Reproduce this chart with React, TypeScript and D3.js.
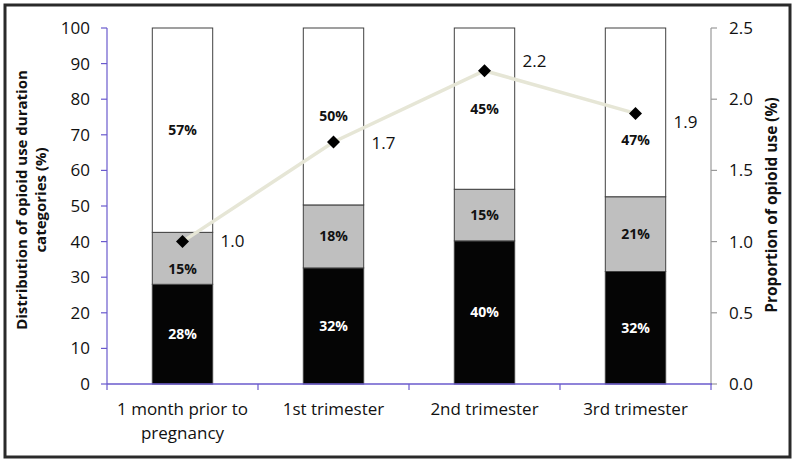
import React from "react";
import * as d3 from "d3";

const categories = ["1 month prior to|pregnancy", "1st trimester", "2nd trimester", "3rd trimester"];
const longUse = [28, 32.6, 40.2, 31.6];
const midUse = [14.6, 17.7, 14.5, 21.0];
const shortUse = [57.4, 49.7, 45.3, 47.4];
const longLabels = ["28%", "32%", "40%", "32%"];
const midLabels = ["15%", "18%", "15%", "21%"];
const shortLabels = ["57%", "50%", "45%", "47%"];
const proportion = [1.0, 1.7, 2.2, 1.9];
const proportionLabels = ["1.0", "1.7", "2.2", "1.9"];
const leftTicks = [0, 10, 20, 30, 40, 50, 60, 70, 80, 90, 100];
const rightTicks = [0, 0.5, 1.0, 1.5, 2.0, 2.5];

// label nudges (px), as in the original figure
const midShift = [11, 0, 0, 0];
const shortShift = [0, 0, 0, 28];
const pointLabelDy = [-1, 1, -10, 9];

const W = 795, H = 462;
const left = 107, right = 711, top = 28, bottom = 384;
const FONT = "'Open Sans', 'Liberation Sans', sans-serif";
const AXIS = "#6a5acd";

export default function App() {
  const x = d3.scaleBand<number>().domain(d3.range(categories.length)).range([left, right]).paddingInner(0.6).paddingOuter(0.3);
  const xc = d3.scaleBand<number>().domain(d3.range(categories.length)).range([left, right]);
  const yL = d3.scaleLinear().domain([0, 100]).range([bottom, top]);
  const yR = d3.scaleLinear().domain([0, 2.5]).range([bottom, top]);

  const series = [
    { vals: longUse, fill: "#050505", labels: longLabels, color: "#fff", shift: [0, 0, 0, 0] },
    { vals: midUse, fill: "#bfbfbf", labels: midLabels, color: "#111", shift: midShift },
    { vals: shortUse, fill: "#ffffff", labels: shortLabels, color: "#111", shift: shortShift },
  ];

  const cx = (i: number) => (xc(i) as number) + xc.bandwidth() / 2;
  const line = d3.line<number>().x((_, i) => cx(i)).y((d) => yR(d));

  const bars: React.ReactNode[] = [];
  const labels: React.ReactNode[] = [];
  categories.forEach((_, i) => {
    let base = 0;
    series.forEach((s, k) => {
      const v0 = base, v1 = base + s.vals[i];
      base = v1;
      bars.push(
        <rect key={`b${i}-${k}`} x={x(i)} y={yL(v1)} width={x.bandwidth()} height={yL(v0) - yL(v1)}
          fill={s.fill} stroke="#404040" strokeWidth={1} />
      );
      labels.push(
        <text key={`l${i}-${k}`} x={cx(i)} y={yL((v0 + v1) / 2) + s.shift[i]} dy="0.35em" textAnchor="middle"
          fontSize={14} fontWeight="bold" fill={s.color} fontFamily={FONT}>{s.labels[i]}</text>
      );
    });
  });

  return (
    <svg width={W} height={H} style={{ position: "absolute", left: 0, top: 0, background: "#fff" }}>
      <rect x={5} y={5} width={785} height={452} fill="#fff" stroke="#2a2a2a" strokeWidth={3} />
      {bars}
      <path d={line(proportion) || ""} fill="none" stroke="#e6e6d6" strokeWidth={3.5} />
      {proportion.map((p, i) => (
        <path key={`m${i}`} d={`M${cx(i)},${yR(p) - 6.5}L${cx(i) + 6.5},${yR(p)}L${cx(i)},${yR(p) + 6.5}L${cx(i) - 6.5},${yR(p)}Z`} fill="#000" />
      ))}
      {proportion.map((p, i) => (
        <text key={`pl${i}`} x={cx(i) + 38} y={yR(p) + pointLabelDy[i]} dy="0.35em" fontSize={17} fill="#111" fontFamily={FONT}>{proportionLabels[i]}</text>
      ))}
      {labels}
      {/* left axis */}
      <line x1={left} x2={left} y1={top} y2={bottom} stroke={AXIS} strokeWidth={1.2} />
      {leftTicks.map((t) => (
        <g key={`lt${t}`}>
          <line x1={left - 6} x2={left} y1={yL(t)} y2={yL(t)} stroke={AXIS} strokeWidth={1.2} />
          <text x={left - 17} y={yL(t)} dy="0.35em" textAnchor="end" fontSize={17} fill="#111" fontFamily={FONT}>{t}</text>
        </g>
      ))}
      {/* right axis */}
      <line x1={right} x2={right} y1={top} y2={bottom} stroke="#999" strokeWidth={1.2} />
      {rightTicks.map((t) => (
        <g key={`rt${t}`}>
          <line x1={right} x2={right + 6} y1={yR(t)} y2={yR(t)} stroke="#999" strokeWidth={1.2} />
          <text x={right + 18} y={yR(t)} dy="0.35em" textAnchor="start" fontSize={17} fill="#111" fontFamily={FONT}>{t.toFixed(1)}</text>
        </g>
      ))}
      {/* bottom axis */}
      <line x1={left} x2={right + 1} y1={bottom} y2={bottom} stroke={AXIS} strokeWidth={1.4} />
      {d3.range(categories.length + 1).map((i) => {
        const xx = i < categories.length ? (xc(i) as number) : right;
        return <line key={`bt${i}`} x1={xx} x2={xx} y1={bottom} y2={bottom + 6} stroke={AXIS} strokeWidth={1.2} />;
      })}
      {categories.map((c, i) => (
        <text key={`c${i}`} x={cx(i)} y={409} dy="0.35em" textAnchor="middle" fontSize={17} fill="#111" fontFamily={FONT}>
          {c.split("|").map((ln, j) => (
            <tspan key={j} x={cx(i)} dy={j === 0 ? "0.35em" : 24}>{ln}</tspan>
          ))}
        </text>
      ))}
      {/* axis titles */}
      <text transform={`translate(22,200) rotate(-90)`} textAnchor="middle" fontSize={15} fontWeight="bold" fill="#111" fontFamily={FONT}>
        <tspan x={0} dy="0.35em">Distribution of opioid use duration</tspan>
        <tspan x={0} dy={19}>categories (%)</tspan>
      </text>
      <text transform={`translate(772,205) rotate(-90)`} dy="0.35em" textAnchor="middle" fontSize={15.5} fontWeight="bold" fill="#111" fontFamily={FONT}>
        Proportion of opioid use (%)
      </text>
    </svg>
  );
}
